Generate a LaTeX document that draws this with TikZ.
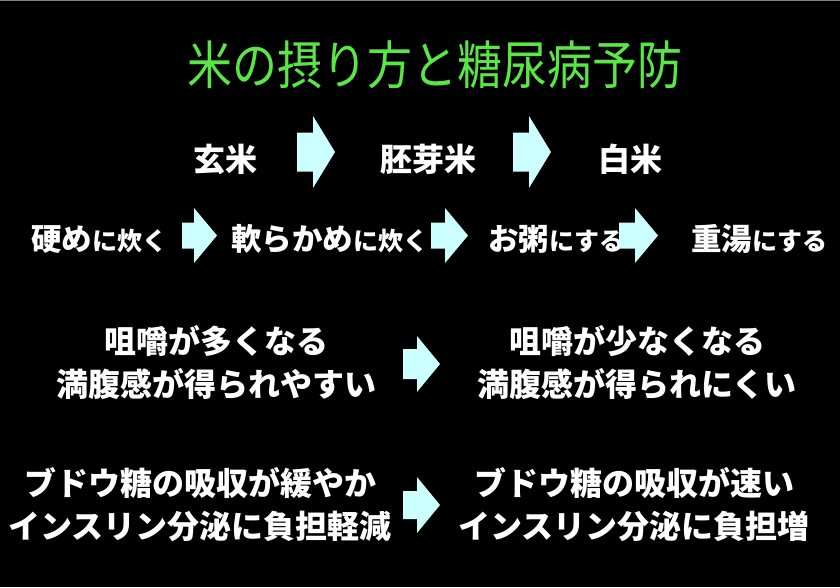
\documentclass[tikz,border=0pt]{standalone}
\usepackage{fontspec}
\setmainfont{Noto Sans CJK JP}
\usepackage{xcolor}
\usepackage{tikz}
\usetikzlibrary{calc}

\definecolor{titlegreen}{RGB}{90,230,70}
\definecolor{arrowcyan}{RGB}{204,255,255}

\newcommand{\bigtx}{\fontsize{30.5}{36}\selectfont}
\newcommand{\smalltx}{\fontsize{25}{28}\selectfont}

\tikzset{
  title/.style={text=titlegreen, font=\fontsize{52}{60}\selectfont, inner sep=0pt, anchor=base, xscale=0.865},
  ricetext/.style={text=white, font=\bfseries\fontsize{32}{40}\selectfont, inner sep=0pt, anchor=base},
  steptext/.style={text=white, font=\bfseries\bigtx, inner sep=0pt, anchor=base west},
  arrowfill/.style={fill=arrowcyan}
}

% block arrow: tail x, head base x, tip x, mid y, tail half height, head half height
\newcommand{\ricearrow}[6]{%
  \fill[arrowfill] (#1,#4-#5) -- (#2,#4-#5) -- (#2,#4-#6) -- (#3,#4)
    -- (#2,#4+#6) -- (#2,#4+#5) -- (#1,#4+#5) -- cycle;}

\begin{document}
\begin{tikzpicture}[x=1pt, y=-1pt]

    % Background
    \fill[black] (0,0) rectangle (840,587);
    \useasboundingbox (0,0) rectangle (840,587);
    \draw[gray, line width=1.2pt] (0,0.6) -- (840,0.6);

    % Title
    \node[title] (title) at (435,84) {米の摂り方と糖尿病予防};

    % Row: kinds of rice
    \node[ricetext] (genmai) at (225,171) {玄米};
    \node[ricetext] (haiga) at (428,171) {胚芽米};
    \node[ricetext] (hakumai) at (630,171) {白米};

    % Arrows: kinds of rice
    \ricearrow{297}{313}{335}{152}{19.5}{36}
    \ricearrow{513}{529}{551}{152}{19.5}{36}

    % Row: ways of cooking
    \node[steptext] (katame) at (31,250) {硬め{\smalltx に炊く}};
    \node[steptext] (yawaraka) at (231,250) {軟らかめ{\smalltx に炊く}};
    \node[steptext] (kayu) at (488,250) {お粥{\smalltx にする}};
    \node[steptext] (omoyu) at (691,250) {重湯{\smalltx にする}};

    % Arrows: ways of cooking
    \ricearrow{182}{194}{217}{235.5}{13}{27.5}
    \ricearrow{431}{445}{468}{235.5}{13}{27.5}
    \ricearrow{619}{635}{658}{235.5}{13}{27.5}

    % Labels: chewing
    \node[ricetext] (chewmore) at (216,353) {咀嚼が多くなる};
    \node[ricetext] (fullyes) at (216,396) {満腹感が得られやすい};
    \node[ricetext] (chewless) at (637,353) {咀嚼が少なくなる};
    \node[ricetext] (fullno) at (637,396) {満腹感が得られにくい};
    \ricearrow{403}{417}{440}{364}{15}{28}

    % Labels: glucose
    \node[ricetext] (slowsugar) at (200,495) {ブドウ糖の吸収が緩やか};
    \node[ricetext] (lightload) at (200,538) {インスリン分泌に負担軽減};
    \node[ricetext] (fastsugar) at (634,495) {ブドウ糖の吸収が速い};
    \node[ricetext] (heavyload) at (634,538) {インスリン分泌に負担増};
    \ricearrow{403}{417}{440}{505}{14}{28}

\end{tikzpicture}
\end{document}
